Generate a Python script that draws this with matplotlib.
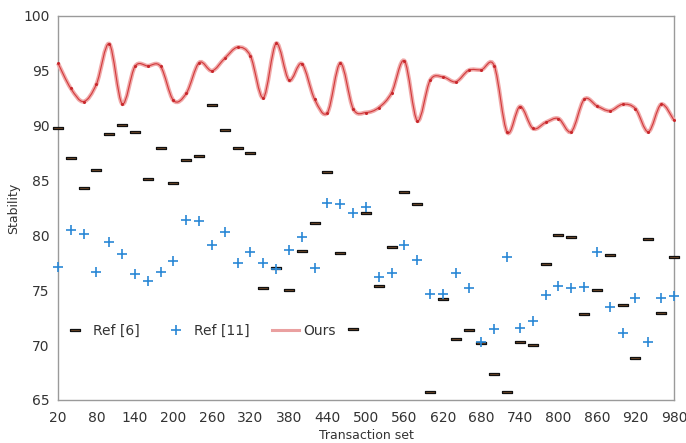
import matplotlib
matplotlib.use("Agg")
import matplotlib.pyplot as plt
from matplotlib.path import Path
from matplotlib.patches import PathPatch
from matplotlib.lines import Line2D
import numpy as np

transaction_set = list(range(20, 1000, 20))

ref6 = [89.8, 87.1, 84.3, 86.0, 89.2, 90.1, 89.4, 85.1, 88.0, 84.8,
        86.9, 87.2, 91.9, 89.6, 88.0, 87.5, 75.2, 77.0, 75.0, 78.6,
        81.1, 85.8, 78.4, 71.5, 82.0, 75.4, 78.9, 84.0, 82.9, 65.7,
        74.2, 70.6, 71.4, 70.2, 67.4, 65.7, 70.3, 70.0, 77.4, 80.0,
        79.9, 72.8, 75.0, 78.2, 73.7, 68.8, 79.7, 72.9, 78.0]

ref11 = [77.1, 80.5, 80.1, 76.7, 79.4, 78.3, 76.5, 75.8, 76.7, 77.7,
         81.4, 81.3, 79.1, 80.3, 77.5, 78.5, 77.5, 76.9, 78.7, 79.9,
         77.0, 83.0, 82.9, 82.0, 82.6, 76.2, 76.6, 79.1, 77.8, 74.7,
         74.7, 76.6, 75.2, 70.3, 71.5, 78.0, 71.6, 72.2, 74.6, 75.4,
         75.2, 75.3, 78.5, 73.5, 71.1, 74.3, 70.3, 74.3, 74.5]

ours = [95.7, 93.4, 92.2, 93.8, 97.45, 92.0, 95.4, 95.45, 95.4, 92.3,
        92.95, 95.75, 95.0, 96.15, 97.15, 96.35, 92.55, 97.5, 94.15, 95.65,
        92.4, 91.2, 95.7, 91.55, 91.2, 91.65, 93.0, 95.9, 90.45, 94.15,
        94.45, 94.0, 95.05, 95.1, 95.45, 89.4, 91.75, 89.75, 90.3, 90.65,
        89.45, 92.4, 91.8, 91.35, 91.95, 91.55, 89.45, 91.95, 90.5]


def smooth_path(xs, ys):
    # Excel-style smoothed line: cubic Bezier segments through each point
    pts = np.column_stack([xs, ys]).astype(float)
    n = len(pts)
    verts = [pts[0]]
    codes = [Path.MOVETO]
    for i in range(n - 1):
        p0 = pts[max(i - 1, 0)]
        p1 = pts[i]
        p2 = pts[i + 1]
        p3 = pts[min(i + 2, n - 1)]
        c1 = p1 + (p2 - p0) / 6.0
        c2 = p2 - (p3 - p1) / 6.0
        verts += [c1, c2, p2]
        codes += [Path.CURVE4] * 3
    return Path(verts, codes)


fig = plt.figure(figsize=(6.86, 4.43), dpi=100)
ax = fig.add_axes([0.0845, 0.0971, 0.898, 0.8668])

dash = [(-2, -0.55), (2, -0.55), (2, 0.55), (-2, 0.55), (-2, -0.55)]

ax.plot(transaction_set, ref6, linestyle='none', marker=dash, markersize=6.5,
        markerfacecolor='#7a4e2a', markeredgecolor='#111111', markeredgewidth=0.9,
        label='Ref [6]', zorder=3, clip_on=False)
ax.plot(transaction_set, ref11, linestyle='none', marker='+', markersize=7,
        markeredgewidth=1.2, color='#2a88d6', label='Ref [11]', zorder=3,
        clip_on=False)

path = smooth_path(transaction_set, ours)
ax.add_patch(PathPatch(path, fill=False, edgecolor='#f0a8a8', lw=3.0, zorder=4,
                       clip_on=False))
ax.add_patch(PathPatch(path, fill=False, edgecolor='#d23a3c', lw=0.8, zorder=5,
                       clip_on=False))
ax.plot(transaction_set, ours, linestyle='none', marker='o', markersize=1.2,
        color='#c8282c', zorder=6, clip_on=False)

ax.set_xlim(20, 980)
ax.set_ylim(65, 100)
ax.set_xticks(range(20, 1000, 60))
ax.set_yticks(range(65, 101, 5))
ax.tick_params(length=0, labelsize=10, labelcolor='#333333')
ax.tick_params(axis='x', pad=8)
ax.tick_params(axis='y', pad=6)
for s in ax.spines.values():
    s.set_color('#9a9a9a')
    s.set_linewidth(1.0)

ax.set_xlabel('Transaction set', fontsize=9, color='#333333', labelpad=3)
ax.set_ylabel('Stability', fontsize=9, color='#333333', labelpad=2)

handles = [
    Line2D([], [], linestyle='none', marker=dash, markersize=6.5,
           markerfacecolor='#7a4e2a', markeredgecolor='#111111', markeredgewidth=0.9),
    Line2D([], [], linestyle='none', marker='+', markersize=7,
           markeredgewidth=1.2, color='#2a88d6'),
    Line2D([], [], color='#eaa0a0', lw=2.2),
]
ax.legend(handles, ['Ref [6]', 'Ref [11]', 'Ours'], loc='center',
          bbox_to_anchor=(0.228, 0.18), ncol=3, frameon=False, fontsize=10,
          handlelength=2.0, handletextpad=0.3, columnspacing=1.6,
          labelcolor='#333333')

plt.savefig('out.png', dpi=100)
